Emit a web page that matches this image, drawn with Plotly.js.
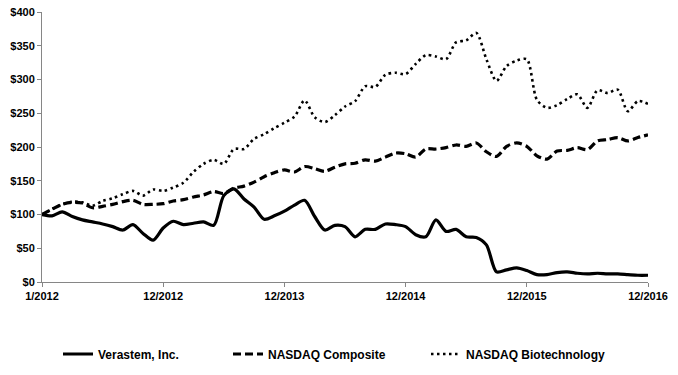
<!DOCTYPE html>
<html>
<head>
<meta charset="utf-8">
<script src="https://cdn.plot.ly/plotly-3.0.1.min.js"></script>
<style>html,body{margin:0;padding:0;background:#fff;}#chart{width:678px;height:375px;}</style>
</head>
<body>
<div id="chart"></div>
<script>
// Period index (0 = start of 1/2012, 60 = 12/2016)
var periods = [];
for (var k = 0; k <= 60; k++) periods.push(k);

var verastem = [100, 98, 104, 97, 92, 89, 86, 82, 77, 85, 72, 62, 80, 90, 85, 87, 89, 84, 128, 138,
  123, 111, 93, 98, 105, 114, 121, 97, 77, 84, 82, 67, 78, 78, 86, 85, 82, 70, 67, 92,
  75, 78, 67, 66, 55, 15, 18, 21, 17, 11, 11, 14, 15, 13, 12, 13, 12, 12, 11, 10, 10];

var nasdaqComposite = [100, 108, 115, 118, 117, 110, 112, 115, 119, 121, 115, 115, 116, 120, 122, 126, 129, 134, 131, 139,
  142, 148, 156, 162, 166, 163, 171, 168, 164, 170, 175, 176, 181, 179, 185, 191, 190, 185, 197, 197,
  199, 203, 201, 206, 193, 186, 201, 206, 201, 187, 182, 194, 195, 199, 196, 209, 211, 214, 209, 214, 218];

var nasdaqBiotech = [100, 108, 115, 119, 118, 113, 120, 124, 130, 135, 128, 137, 135, 140, 147, 163, 175, 181, 175, 197,
  197, 212, 219, 228, 236, 245, 269, 244, 237, 247, 260, 268, 290, 289, 307, 310, 308, 323, 336, 334,
  330, 355, 358, 369, 330, 298, 320, 328, 330, 270, 258, 262, 271, 278, 258, 284, 280, 285, 253, 268, 264];

var tickPositions = [0, 12, 24, 36, 48, 60];
var tickLabels = ['1/2012', '12/2012', '12/2013', '12/2014', '12/2015', '12/2016'];
var yTicks = [0, 50, 100, 150, 200, 250, 300, 350, 400];
var yTickLabels = yTicks.map(function (v) { return '$' + v; });

var seriesNames = ['Verastem, Inc.', 'NASDAQ Composite', 'NASDAQ Biotechnology'];

var fontFam = '"Liberation Sans", Arial, sans-serif';

var traces = [
  {x: periods, y: verastem, name: seriesNames[0], type: 'scatter', mode: 'lines',
   line: {color: '#000', width: 3.2, shape: 'spline', smoothing: 0.8}, legend: 'legend', hoverinfo: 'skip'},
  {x: periods, y: nasdaqComposite, name: seriesNames[1], type: 'scatter', mode: 'lines',
   line: {color: '#000', width: 3.2, dash: '8px,4px', shape: 'spline', smoothing: 0.8}, legend: 'legend2', hoverinfo: 'skip'},
  {x: periods, y: nasdaqBiotech, name: seriesNames[2], type: 'scatter', mode: 'lines',
   line: {color: '#000', width: 2.6, dash: '2.5px,3.5px', shape: 'spline', smoothing: 0.8}, legend: 'legend3', hoverinfo: 'skip'}
];

var W = 678, H = 375;
var legCommon = {orientation: 'h', xref: 'container', yref: 'container', yanchor: 'middle', xanchor: 'left',
  y: 1 - 354 / H,
  font: {family: fontFam, size: 12, color: '#000', weight: 'bold'}, bgcolor: 'rgba(0,0,0,0)', borderwidth: 0};

var layout = {
  width: W, height: H,
  margin: {l: 42, r: 30, t: 12, b: 93, autoexpand: false},
  paper_bgcolor: '#fff', plot_bgcolor: '#fff',
  font: {family: fontFam, size: 11, color: '#000'},
  xaxis: {range: [0, 60], tickvals: tickPositions, ticktext: tickLabels, showgrid: false, zeroline: false,
    showline: true, linecolor: '#868686', linewidth: 1, ticks: 'outside', ticklen: 4, tickcolor: '#868686',
    tickfont: {family: fontFam, size: 11, color: '#000', weight: 'bold'}, fixedrange: true, automargin: false},
  yaxis: {range: [0, 400], tickvals: yTicks, ticktext: yTickLabels, showgrid: false, zeroline: false,
    showline: true, linecolor: '#868686', linewidth: 1, ticks: 'outside', ticklen: 4, tickcolor: '#868686',
    tickfont: {family: fontFam, size: 11, color: '#000', weight: 'bold'}, fixedrange: true, automargin: false},
  showlegend: true,
  legend: Object.assign({}, legCommon, {x: 58 / W}),
  legend2: Object.assign({}, legCommon, {x: 228 / W}),
  legend3: Object.assign({}, legCommon, {x: 426 / W})
};

Plotly.newPlot('chart', traces, layout, {displayModeBar: false, staticPlot: true});
</script>
</body>
</html>
